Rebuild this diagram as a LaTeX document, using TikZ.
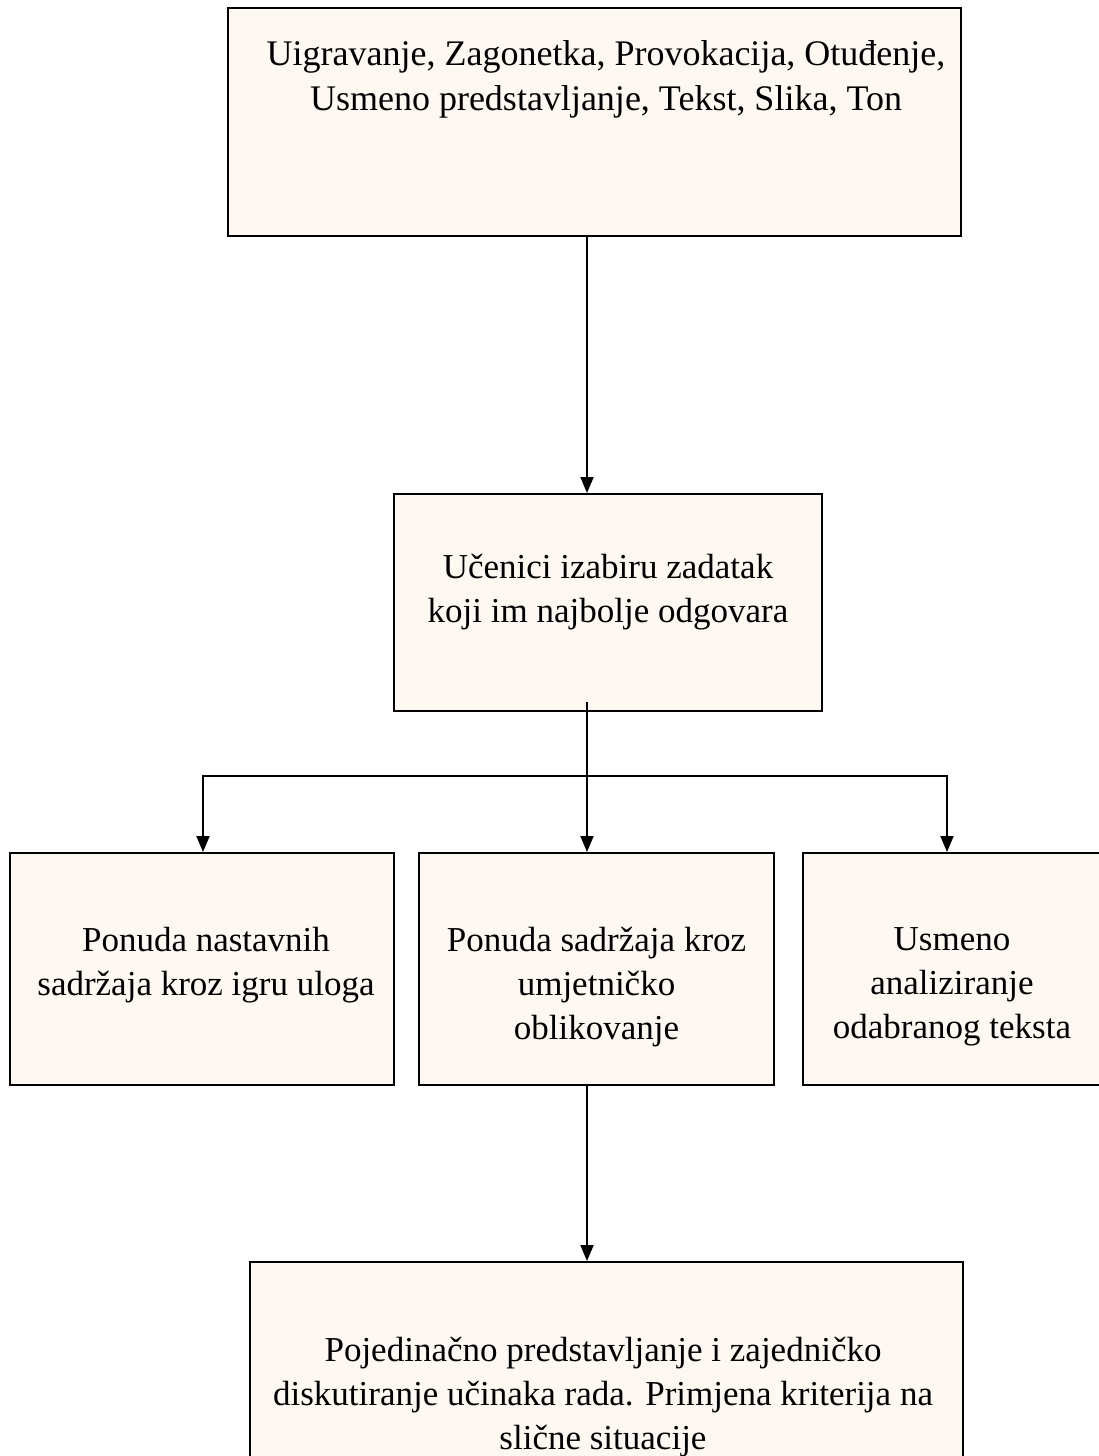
\documentclass[tikz,border=0pt]{standalone}
\usepackage{fontspec}
\setmainfont{Liberation Serif}
\usetikzlibrary{arrows.meta}
\definecolor{boxfill}{HTML}{FDF8F2}
\begin{document}
\begin{tikzpicture}[x=1pt,y=-1pt,
  box/.style={draw=black, line width=2pt, fill=boxfill, inner sep=0pt},
  lbl/.style={font=\fontsize{35}{44}\selectfont, align=center, inner sep=0pt},
  arr/.style={line width=2pt, -{Triangle[length=16pt,width=13pt]}},
  ln/.style={line width=2pt}]
\useasboundingbox (0,0) rectangle (1099,1456);
\clip (0,0) rectangle (1099,1456);
% boxes
\node[box, line width=2.5pt, minimum width=733pt, minimum height=228pt] (b1) at (594.5,122) {};
\node[box, minimum width=428pt, minimum height=217pt] (b2) at (608,602.5) {};
\node[box, minimum width=384pt, minimum height=232pt] (b3) at (202,969) {};
\node[box, minimum width=355pt, minimum height=232pt] (b4) at (596.5,969) {};
\node[box, minimum width=300pt, minimum height=232pt] (b5) at (953,969) {};
\node[box, minimum width=713pt, minimum height=208pt] (b6) at (606.5,1366) {};
% texts
\node[lbl, font=\fontsize{36}{45}\selectfont] (t1) at (606,79) {Uigravanje, Zagonetka, Provokacija, Otuđenje,\\Usmeno predstavljanje, Tekst, Slika, Ton};
\node[lbl] (t2) at (608,592) {Učenici izabiru zadatak\\koji im najbolje odgovara};
\node[lbl] (t3) at (206,965) {Ponuda nastavnih\\sadržaja kroz igru uloga};
\node[lbl] (t4) at (596.5,987) {Ponuda sadržaja kroz\\umjetničko\\oblikovanje};
\node[lbl] (t5) at (952,987) {Usmeno\\analiziranje\\odabranog teksta};
\node[lbl] (t6) at (603,1397) {Pojedinačno predstavljanje i zajedničko\\diskutiranje učinaka rada. Primjena kriterija na\\slične situacije};
% connectors
\coordinate (mx) at (587,0);
\coordinate (lx) at (203,0);
\coordinate (rx) at (947,0);
\coordinate (j) at (587,776);
\draw[arr] (b1.south -| mx) -- (b2.north -| mx);
\draw[ln] ([yshift=10pt]b2.south -| mx) -- (j);
\draw[arr] (j) -| (b3.north -| lx);
\draw[arr] (j) -| (b5.north -| rx);
\draw[arr] (j) -- (b4.north -| mx);
\draw[arr] (b4.south -| mx) -- (b6.north -| mx);
\end{tikzpicture}
\end{document}
